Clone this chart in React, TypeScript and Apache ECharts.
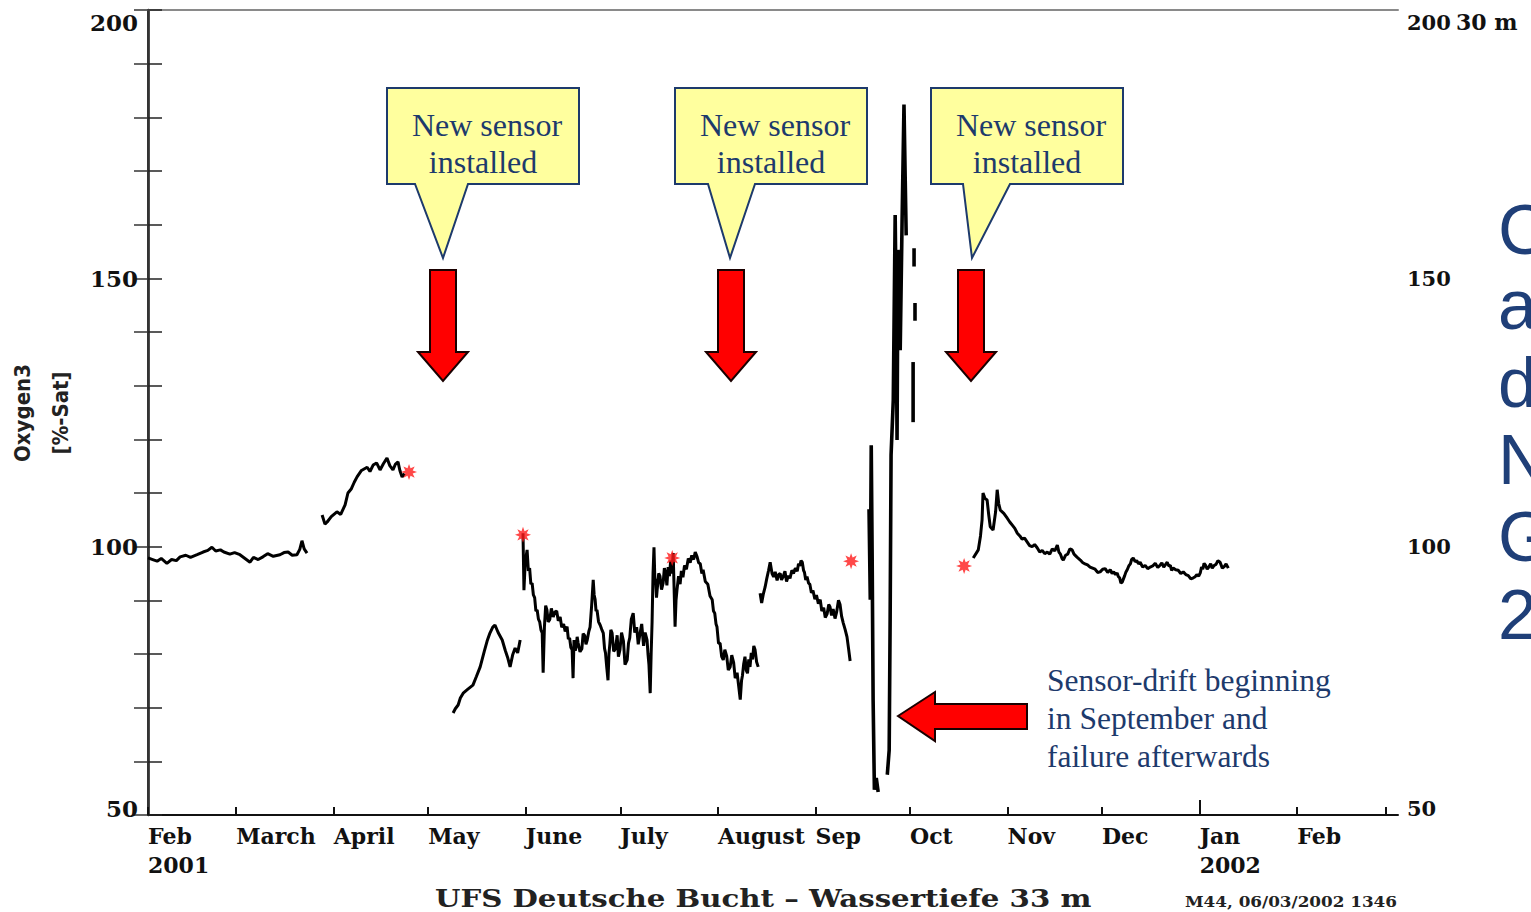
import React, { useEffect, useRef } from "react";
import * as echarts from "echarts";

// ---- Data (day offset from 1 Feb 2001, oxygen saturation %) ----
const MONTH_TICKS = [0, 28, 59, 89, 120, 150, 181, 212, 242, 273, 303, 334, 365];
const MONTH_LABELS = ["Feb\n2001", "March", "April", "May", "June", "July", "August", "Sep", "Oct", "Nov", "Dec", "Jan\n2002", "Feb"];
const EXTRA_TICKS = [393];
const YEAR_TICKS = [334];
const Y_LABELS_MID = [100, 150];
const Y_LABELS_END = [50, 200];

const segFebMar = [
  [0, 97.9], [1.5, 97.6], [2.9, 97.3], [4.2, 97.8], [6.0, 96.9], [7.5, 97.6], [9, 97.4], [10.2, 98.1],
  [12, 98.4], [13.5, 98.0], [15.6, 98.5], [17.5, 99.0], [19, 99.3], [20.3, 99.9], [21.5, 99.2], [23, 99.4],
  [24.1, 99.0], [26, 98.6], [27.5, 98.9], [29.2, 98.5], [30.8, 97.8], [32.4, 97.1], [33.5, 98.0], [35, 97.6],
  [36.5, 98.1], [38, 98.7], [39.8, 98.2], [41.9, 98.5], [43.2, 98.9], [44.5, 99.0], [45.8, 98.4], [47.3, 98.5],
  [48.2, 99.5], [48.9, 101.1], [49.6, 99.6], [50.5, 98.8]
];
const segApr = [
  [55.3, 105.9], [56.2, 104.2], [56.9, 104.6], [58.2, 105.6], [60.0, 106.5], [61.2, 106.0], [62.6, 107.8],
  [63.5, 110.0], [64.6, 110.8], [65.5, 112.0], [66.4, 113.0], [67.8, 114.2], [69.6, 114.8], [70.5, 114.0],
  [71.5, 115.2], [72.6, 115.6], [73.7, 114.3], [74.8, 115.5], [75.9, 116.5], [76.8, 115.1], [77.8, 114.3],
  [78.6, 115.4], [79.4, 115.8], [80.0, 114.2], [80.7, 113.0], [81.5, 113.6]
];
const segMay = [
  [96.9, 69.0], [97.6, 69.8], [98.5, 70.5], [99.2, 71.8], [100.1, 72.7], [101.5, 73.4], [103.2, 74.2],
  [104.3, 75.8], [105.5, 77.6], [106.8, 80.5], [107.7, 82.4], [108.6, 83.9], [109.5, 85.0], [110.2, 85.4],
  [111.2, 84.0], [112.5, 82.6], [113.5, 80.6], [114.3, 79.2], [115.0, 77.6], [115.8, 79.8], [116.6, 81.1],
  [117.4, 80.2], [118.2, 82.6]
];
const segJunJul = [
  [119.1, 102.5], [119.4, 91.9], [119.8, 97.0], [120.4, 99.4], [120.8, 95.5], [121.2, 96.0], [121.6, 93.0],
  [122.0, 93.2], [122.4, 91.0], [122.8, 90.5], [123.2, 88.0], [123.6, 88.2], [124.0, 86.5], [124.4, 86.0],
  [124.8, 84.5], [125.2, 83.9], [125.5, 76.5], [125.9, 85.0], [126.3, 89.0], [126.7, 88.2], [127.1, 86.0],
  [127.6, 86.4], [128.1, 88.5], [128.7, 86.9], [129.2, 87.8], [129.8, 88.0], [130.3, 86.2], [130.9, 86.9],
  [131.4, 85.0], [132.0, 85.6], [132.5, 84.2], [133.1, 85.1], [133.5, 82.8], [133.9, 83.0], [134.3, 81.2],
  [134.7, 80.8], [135.0, 75.5], [135.3, 82.6], [135.7, 80.6], [136.0, 81.4], [136.3, 83.2], [136.6, 82.1],
  [137.2, 80.4], [137.8, 81.0], [138.2, 83.8], [138.7, 83.4], [139.1, 81.8], [139.5, 82.6], [140.0, 84.2],
  [140.4, 85.0], [140.9, 89.0], [141.4, 93.8], [141.7, 91.0], [142.0, 90.2], [142.3, 88.0], [142.6, 88.2],
  [143.1, 86.0], [143.6, 85.4], [144.1, 84.6], [144.6, 83.9], [145.0, 81.0], [145.3, 80.2], [145.7, 77.5],
  [146.1, 75.1], [146.4, 80.0], [146.7, 82.0], [147.0, 84.5], [147.4, 83.9], [147.9, 80.5], [148.5, 81.0],
  [149.0, 83.5], [149.4, 79.5], [149.9, 80.8], [150.4, 84.0], [151.0, 82.4], [151.5, 78.0], [152.2, 78.9],
  [152.6, 82.0], [153.0, 83.0], [153.5, 86.5], [154.1, 87.6], [154.6, 84.0], [155.2, 85.0], [155.7, 81.8],
  [156.3, 83.9], [156.8, 85.6], [157.4, 81.5], [157.9, 84.0], [158.5, 82.6], [158.8, 80.0], [159.1, 78.0],
  [159.5, 72.7], [159.8, 80.0], [160.1, 86.0], [160.4, 95.0], [160.7, 99.9], [161.0, 93.5], [161.2, 94.0],
  [161.5, 90.5], [161.7, 91.9], [162.2, 95.0], [162.6, 94.5], [163.1, 92.0], [163.6, 93.2], [164.0, 96.0],
  [164.4, 95.0], [164.8, 92.8], [165.2, 96.2], [165.6, 94.5], [166.0, 97.4], [166.4, 95.0], [166.8, 98.8],
  [167.1, 92.0], [167.4, 85.1], [167.7, 90.0], [168.0, 91.9], [168.5, 94.5], [169.0, 93.0], [169.4, 95.5],
  [169.9, 94.3], [170.4, 96.5], [171.0, 95.8], [171.6, 97.8], [172.2, 97.0], [172.7, 98.4], [173.3, 97.6],
  [173.8, 99.0], [174.4, 98.1], [174.9, 97.0], [175.4, 96.8], [175.9, 95.0], [176.3, 95.7], [177.0, 93.5],
  [177.8, 93.0], [178.5, 90.8], [179.2, 90.1], [179.6, 88.0], [180.0, 87.6], [180.4, 85.6], [180.7, 85.1],
  [181.2, 82.0], [181.7, 82.0], [182.2, 79.5], [182.7, 78.9], [183.2, 80.8], [183.8, 79.6], [184.3, 77.0],
  [184.9, 77.6], [185.4, 79.8], [186.0, 78.4], [186.5, 75.5], [187.1, 76.5], [187.6, 74.0], [188.1, 71.5],
  [188.5, 75.0], [188.8, 76.0], [189.2, 78.2], [189.6, 79.5], [190.0, 77.0], [190.4, 76.4], [190.8, 79.0],
  [191.2, 77.6], [191.6, 80.2], [192.0, 79.0], [192.4, 81.5], [192.8, 80.8], [193.3, 78.5], [193.8, 77.6]
];
const segAug = [
  [194.4, 91.3], [194.9, 89.5], [195.4, 91.1], [196.0, 92.5], [196.5, 94.0], [197.1, 95.6], [197.6, 97.1],
  [198.2, 95.0], [198.7, 94.4], [199.2, 95.3], [199.8, 93.7], [200.3, 94.8], [200.8, 95.0], [201.2, 93.8],
  [201.7, 94.4], [202.3, 95.4], [202.8, 93.5], [203.4, 94.6], [203.9, 94.1], [204.5, 95.6], [205.0, 95.0],
  [205.6, 96.0], [206.2, 95.4], [206.6, 96.8], [207.0, 96.4], [207.4, 97.4], [207.8, 97.1], [208.2, 95.6],
  [208.5, 95.2], [208.9, 93.8], [209.3, 94.4], [209.8, 93.2], [210.2, 93.0], [210.7, 91.4], [211.2, 91.8],
  [211.8, 90.2], [212.3, 91.0], [212.9, 89.4], [213.5, 90.1], [214.0, 88.0], [214.6, 88.6], [215.1, 86.8],
  [215.7, 87.5], [216.2, 89.2], [216.6, 88.8], [217.1, 87.2], [217.6, 88.4], [218.2, 86.6], [218.7, 87.8],
  [219.3, 90.0], [219.8, 89.2], [220.3, 87.0], [220.8, 85.8], [221.4, 84.6], [222.0, 83.2], [222.5, 81.0],
  [223.0, 78.7]
];
const segSepFail = [
  [229.0, 107.0], [229.4, 90.1], [229.7, 118.9], [230.0, 97.5], [230.3, 71.4], [230.7, 54.7], [231.3, 56.9],
  [231.9, 54.3]
];
const segSepFail2 = [
  [234.8, 57.5], [235.4, 62.1], [235.7, 86.3], [236.0, 117.1], [236.7, 127.3], [237.3, 161.8], [237.6, 146.0],
  [237.9, 119.9], [238.2, 155.3], [238.9, 136.6], [239.5, 160.8], [240.1, 182.4], [240.5, 168.2], [240.8, 158.0]
];
const segSepDash1 = [[243.3, 155.6], [243.3, 152.2]];
const segSepDash2 = [[243.6, 145.4], [243.6, 142.1]];
const segSepDash3 = [[243.0, 134.4], [243.0, 123.2]];
const segOctJan = [
  [262.1, 97.9], [263.7, 99.4], [264.4, 102.0], [264.9, 105.0], [265.2, 110.0], [265.8, 109.0], [266.5, 108.7],
  [267.0, 106.0], [267.5, 103.7], [268.4, 103.1], [269.2, 106.5], [269.7, 110.6], [270.2, 108.0], [270.7, 106.8],
  [271.8, 106.2], [272.9, 105.3], [273.7, 104.6], [274.5, 104.0], [275.3, 103.4], [276.1, 102.5], [276.9, 102.0],
  [277.6, 101.4], [278.4, 101.6], [279.2, 100.9], [280.0, 100.2], [280.8, 100.0], [281.6, 100.4], [282.4, 99.8],
  [283.2, 99.0], [284.0, 99.3], [284.8, 98.7], [285.6, 99.0], [286.4, 98.6], [287.2, 99.6], [288.0, 99.2],
  [288.8, 100.3], [289.3, 99.0], [289.8, 98.6], [290.3, 97.8], [290.7, 97.5], [291.4, 98.4], [292.1, 98.6],
  [292.8, 99.6], [293.5, 99.4], [294.1, 98.6], [294.8, 98.2], [295.5, 97.8], [296.1, 97.5], [296.9, 97.0],
  [297.6, 96.8], [298.4, 96.6], [299.2, 96.2], [300.0, 96.0], [300.8, 95.8], [301.6, 95.2], [302.4, 95.3],
  [303.2, 95.8], [304.0, 95.9], [304.8, 95.2], [305.6, 95.7], [306.2, 95.0], [306.7, 95.3], [307.3, 94.8],
  [307.8, 95.1], [308.2, 94.4], [308.6, 94.2], [309.0, 93.2], [309.4, 93.4], [309.8, 94.0], [310.2, 94.6],
  [310.6, 95.3], [311.0, 95.7], [311.5, 96.4], [312.0, 96.8], [312.4, 97.6], [312.9, 97.9], [313.5, 97.2],
  [314.0, 97.4], [314.6, 96.8], [315.1, 97.1], [315.9, 96.2], [316.7, 96.5], [317.5, 95.9], [318.3, 96.2],
  [319.1, 96.4], [319.9, 96.9], [320.7, 96.1], [321.5, 96.6], [322.0, 97.0], [322.6, 96.2], [323.2, 96.7],
  [323.7, 97.1], [324.2, 96.4], [324.7, 96.5], [325.1, 95.6], [325.6, 96.0], [326.4, 95.7], [327.2, 95.6],
  [328.0, 95.0], [328.8, 95.3], [329.6, 94.8], [330.4, 94.6], [331.2, 94.0], [332.0, 94.2], [332.6, 94.4],
  [333.1, 94.8], [333.7, 94.5], [334.2, 95.1], [334.6, 96.2], [335.0, 95.8], [335.4, 96.9], [335.8, 96.6],
  [336.4, 95.8], [336.9, 96.2], [337.5, 96.8], [338.0, 96.0], [338.6, 96.5], [339.2, 96.7], [339.8, 97.4],
  [340.5, 97.1], [341.2, 96.0], [341.8, 96.3], [342.4, 96.8], [343.1, 96.0]
];
const MARKER_DAYS = [82.9, 119.1, 166.5, 223.3, 259.2];
const MARKER_VALUES = [113.9, 102.2, 97.9, 97.3, 96.4];

const Y_MIN = 50;
const Y_MAX = 200;
const X_MIN = 0;
const X_MAX = 397;

const NAVY = "#1d3a6c";
const SERIF_BOLD = "DejaVu Serif";

function asteriskPath(): string {
  const pts: string[] = [];
  for (let i = 0; i < 16; i++) {
    const r = i % 2 === 0 ? 10 : 5;
    const a = (i * Math.PI) / 8;
    pts.push(`${(10 + r * Math.cos(a)).toFixed(2)} ${(10 + r * Math.sin(a)).toFixed(2)}`);
  }
  return "path://M" + pts.join(" L") + " Z";
}

function callout(x0: number, tipX: number, baseL: number, baseR: number) {
  const y0 = 88, y1 = 184, w = 192;
  return [
    {
      type: "polygon",
      shape: {
        points: [[x0, y0], [x0 + w, y0], [x0 + w, y1], [baseR, y1], [tipX, 258], [baseL, y1], [x0, y1]]
      },
      style: { fill: "#ffff9e", stroke: NAVY, lineWidth: 2 },
      z: 10
    },
    {
      type: "text",
      x: x0 + w / 2 + 4,
      y: 125,
      style: { text: "New sensor", font: "32px 'Liberation Serif'", fill: NAVY, align: "center", verticalAlign: "middle", textAlign: "center", textVerticalAlign: "middle" },
      z: 11
    },
    {
      type: "text",
      x: x0 + w / 2,
      y: 162,
      style: { text: "installed", font: "32px 'Liberation Serif'", fill: NAVY, align: "center", verticalAlign: "middle", textAlign: "center", textVerticalAlign: "middle" },
      z: 11
    }
  ];
}

function downArrow(cx: number) {
  return {
    type: "polygon",
    shape: {
      points: [[cx - 13, 270], [cx + 13, 270], [cx + 13, 352], [cx + 25, 352], [cx, 381], [cx - 25, 352], [cx - 13, 352]]
    },
    style: { fill: "#ff0000", stroke: "#1a0000", lineWidth: 2 },
    z: 10
  };
}

function txt(text: string, x: number, y: number, font: string, fill: string, align = "left", extra: any = {}) {
  return {
    type: "text",
    x,
    y,
    ...extra,
    style: { text, font, fill, align, verticalAlign: "middle", textAlign: align, textVerticalAlign: "middle" },
    z: 12
  };
}

export default function App() {
  const ref = useRef<HTMLDivElement>(null);

  useEffect(() => {
    if (!ref.current) return;
    const chart = echarts.init(ref.current, undefined, { renderer: "svg" });

    const lineSegs = [segFebMar, segApr, segMay, segJunJul, segAug, segSepFail, segSepFail2, segSepDash1, segSepDash2, segSepDash3, segOctJan];
    const thick = [5, 6, 7, 8, 9];

    const series: any[] = lineSegs.map((seg, i) => ({
      type: "line",
      name: "seg" + i,
      data: seg,
      showSymbol: false,
      symbol: "none",
      lineStyle: { color: "#000", width: thick.includes(i) ? 3.6 : 3 },
      xAxisIndex: 0,
      yAxisIndex: 0,
      z: 3
    }));
    series.push({
      type: "scatter",
      name: "markers",
      data: MARKER_DAYS.map((d, i) => [d, MARKER_VALUES[i]]),
      symbol: asteriskPath(),
      symbolSize: 16,
      itemStyle: { color: "#ff1a1a" },
      z: 4
    });

    const labelFont = { fontFamily: SERIF_BOLD, fontWeight: "bold" as const, color: "#111" };
    const midLabel = (v: number) => (Y_LABELS_MID.includes(v) ? String(v) : "");

    chart.setOption({
      animation: false,
      backgroundColor: "#ffffff",
      grid: { left: 148, right: 133, top: 10, bottom: 97, containLabel: false, outerBoundsMode: "none" },
      xAxis: [
        {
          type: "value",
          min: X_MIN,
          max: X_MAX,
          position: "bottom",
          axisLine: { show: true, lineStyle: { color: "#111", width: 2 } },
          axisTick: { show: true, inside: true, length: 8, customValues: [...MONTH_TICKS, ...EXTRA_TICKS], lineStyle: { color: "#111", width: 2 } },
          axisLabel: {
            show: true,
            customValues: MONTH_TICKS,
            formatter: (v: number) => {
              const idx = MONTH_TICKS.indexOf(Math.round(v));
              return idx >= 0 ? MONTH_LABELS[idx] : "";
            },
            align: "left",
            verticalAlign: "top",
            margin: 6,
            fontSize: 22,
            lineHeight: 29,
            ...labelFont
          },
          splitLine: { show: false }
        },
        {
          type: "value",
          min: X_MIN,
          max: X_MAX,
          position: "top",
          axisLine: { show: true, lineStyle: { color: "#8a8a8a", width: 2 } },
          axisTick: { show: false },
          axisLabel: { show: false },
          splitLine: { show: false }
        },
        {
          type: "value",
          min: X_MIN,
          max: X_MAX,
          position: "bottom",
          axisLine: { show: false },
          axisTick: { show: true, inside: true, length: 15, customValues: YEAR_TICKS, lineStyle: { color: "#111", width: 2 } },
          axisLabel: { show: false },
          splitLine: { show: false }
        }
      ],
      yAxis: [
        {
          type: "value",
          min: Y_MIN,
          max: Y_MAX,
          interval: 10,
          position: "left",
          axisLine: { show: true, lineStyle: { color: "#111", width: 2.5 } },
          axisTick: { show: true, inside: true, length: 14, lineStyle: { color: "#222", width: 1.5 } },
          axisLabel: { formatter: midLabel, margin: 10, fontSize: 23, ...labelFont },
          splitLine: { show: false }
        },
        {
          type: "value",
          min: Y_MIN,
          max: Y_MAX,
          interval: 10,
          position: "right",
          axisLine: { show: true, lineStyle: { color: "#333", width: 2 } },
          axisTick: { show: true, inside: true, length: 14, lineStyle: { color: "#333", width: 1.5 } },
          axisLabel: { formatter: midLabel, margin: 9, fontSize: 21, ...labelFont },
          splitLine: { show: false }
        }
      ],
      series,
      graphic: [
        ...callout(387, 443, 415, 468),
        ...callout(675, 730, 708, 755),
        ...callout(931, 972, 963, 1010),
        downArrow(443),
        downArrow(731),
        downArrow(971),
        {
          type: "polygon",
          shape: {
            points: [[898, 716], [935, 692], [935, 704], [1027, 704], [1027, 729], [935, 729], [935, 741]]
          },
          style: { fill: "#ff0000", stroke: "#1a0000", lineWidth: 2 },
          z: 10
        },
        txt(String(Y_LABELS_END[1]), 138, 22, "bold 23px 'DejaVu Serif'", "#111", "right"),
        txt(String(Y_LABELS_END[0]), 138, 808, "bold 23px 'DejaVu Serif'", "#111", "right"),
        txt(String(Y_LABELS_END[1]), 1407, 22, "bold 21px 'DejaVu Serif'", "#111", "left"),
        txt(String(Y_LABELS_END[0]), 1407, 808, "bold 21px 'DejaVu Serif'", "#111", "left"),
        txt("Sensor-drift beginning", 1047, 680, "31.5px 'Liberation Serif'", NAVY),
        txt("in September and", 1047, 718, "31.5px 'Liberation Serif'", NAVY),
        txt("failure afterwards", 1047, 756, "31.5px 'Liberation Serif'", NAVY),
        txt("Oxygen3", 22, 413, "bold 22px 'DejaVu Sans Condensed', 'DejaVu Sans'", "#222", "center", { rotation: Math.PI / 2 }),
        txt("[%-Sat]", 60, 413, "bold 22px 'DejaVu Sans Condensed', 'DejaVu Sans'", "#222", "center", { rotation: Math.PI / 2 }),
        txt("30 m", 1456, 22, "bold 22px 'DejaVu Serif'", "#111"),
        txt("UFS Deutsche Bucht – Wassertiefe 33 m", 435, 898, "bold 25px 'DejaVu Serif'", "#222", "left", { scaleX: 1.17 }),
        txt("M44, 06/03/2002 1346", 1185, 902, "bold 14px 'DejaVu Serif'", "#222", "left", { scaleX: 1.2 }),
        txt("C", 1498, 230, "70px 'Liberation Sans'", "#1f3f78"),
        txt("a", 1498, 305, "70px 'Liberation Sans'", "#1f3f78"),
        txt("d", 1498, 383, "70px 'Liberation Sans'", "#1f3f78"),
        txt("N", 1498, 460, "70px 'Liberation Sans'", "#1f3f78"),
        txt("G", 1498, 537, "70px 'Liberation Sans'", "#1f3f78"),
        txt("2", 1498, 615, "70px 'Liberation Sans'", "#1f3f78")
      ]
    });

    return () => chart.dispose();
  }, []);

  return (
    <div
      ref={ref}
      style={{ position: "fixed", left: 0, top: 0, width: 1531, height: 912, background: "#fff" }}
    />
  );
}
